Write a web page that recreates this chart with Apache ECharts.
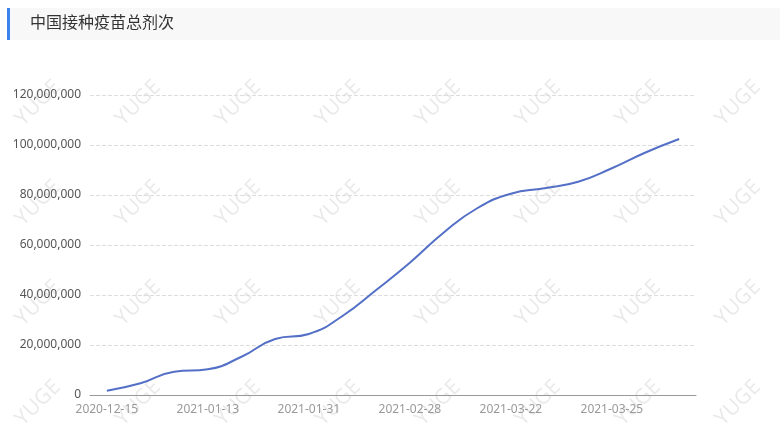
<!DOCTYPE html>
<html>
<head>
<meta charset="utf-8">
<script src="https://cdn.jsdelivr.net/npm/echarts@6/dist/echarts.min.js"></script>
<style>
html,body{margin:0;padding:0;background:#fff;}
#c{width:780px;height:435px;}
</style>
</head>
<body>
<div id="c"></div>
<script>
var titleText = '中国接种疫苗总剂次';
var categories = ['2020-12-15','2020-12-31','2021-01-09','2021-01-13','2021-01-20','2021-01-27',
  '2021-01-31','2021-02-03','2021-02-09','2021-02-28','2021-03-14','2021-03-21',
  '2021-03-22','2021-03-23','2021-03-24','2021-03-25','2021-03-26','2021-03-27'];
var doses = [1700000, 4700000, 9300000, 10300000, 15300000, 22400000,
  24400000, 31600000, 42000000, 52900000, 64900000, 74700000,
  80500000, 82700000, 85300000, 90700000, 97000000, 102400000];
var watermarkText = 'YUGE';

var chart = echarts.init(document.getElementById('c'), null, {renderer:'canvas'});

var graphics = [
  {type:'rect', left:10, top:8, shape:{width:770, height:32}, style:{fill:'#f8f8f8'}, z:-20, silent:true},
  {type:'rect', left:7, top:8, shape:{width:3, height:32}, style:{fill:'#3b82ec'}, z:-19, silent:true},
  {type:'text', left:30, top:14, style:{text:titleText, fill:'#333', font:'16px "Noto Sans CJK SC", sans-serif'}, z:-18, silent:true}
];
for (var j = 0; j < 4; j++) {
  for (var i = 0; i < 8; i++) {
    graphics.push({
      type:'text', x: 38 + 100*i, y: 103 + 100*j, rotation: Math.PI/4,
      style:{text:watermarkText, fill:'rgba(0,0,0,0.085)', font:'21px "Noto Sans", sans-serif',
        align:'center', verticalAlign:'middle'},
      z:-10, silent:true
    });
  }
}

chart.setOption({
  animation:false,
  backgroundColor:'#fff',
  graphic: graphics,
  grid:{left:90, right:84, top:95, bottom:40, containLabel:false},
  xAxis:{
    type:'category', data:categories, boundaryGap:true,
    axisLine:{lineStyle:{color:'#999'}},
    axisTick:{interval:2, length:5, lineStyle:{color:'#999'}},
    axisLabel:{interval:2, color:'#999', fontSize:12, fontFamily:'"Noto Sans", sans-serif', margin:9}
  },
  yAxis:{
    type:'value', min:0, max:120000000, interval:20000000,
    axisLine:{show:false}, axisTick:{show:false},
    axisLabel:{color:'#555', fontSize:12, fontFamily:'"Noto Sans", sans-serif', margin:9,
      formatter:function(v){return v.toLocaleString('en-US');}},
    splitLine:{lineStyle:{type:'dashed', color:'#ddd'}}
  },
  series:[{
    type:'line', data:doses, smooth:true, showSymbol:false,
    lineStyle:{width:2, color:'#5470c6'}, itemStyle:{color:'#5470c6'}
  }]
});
</script>
</body>
</html>
